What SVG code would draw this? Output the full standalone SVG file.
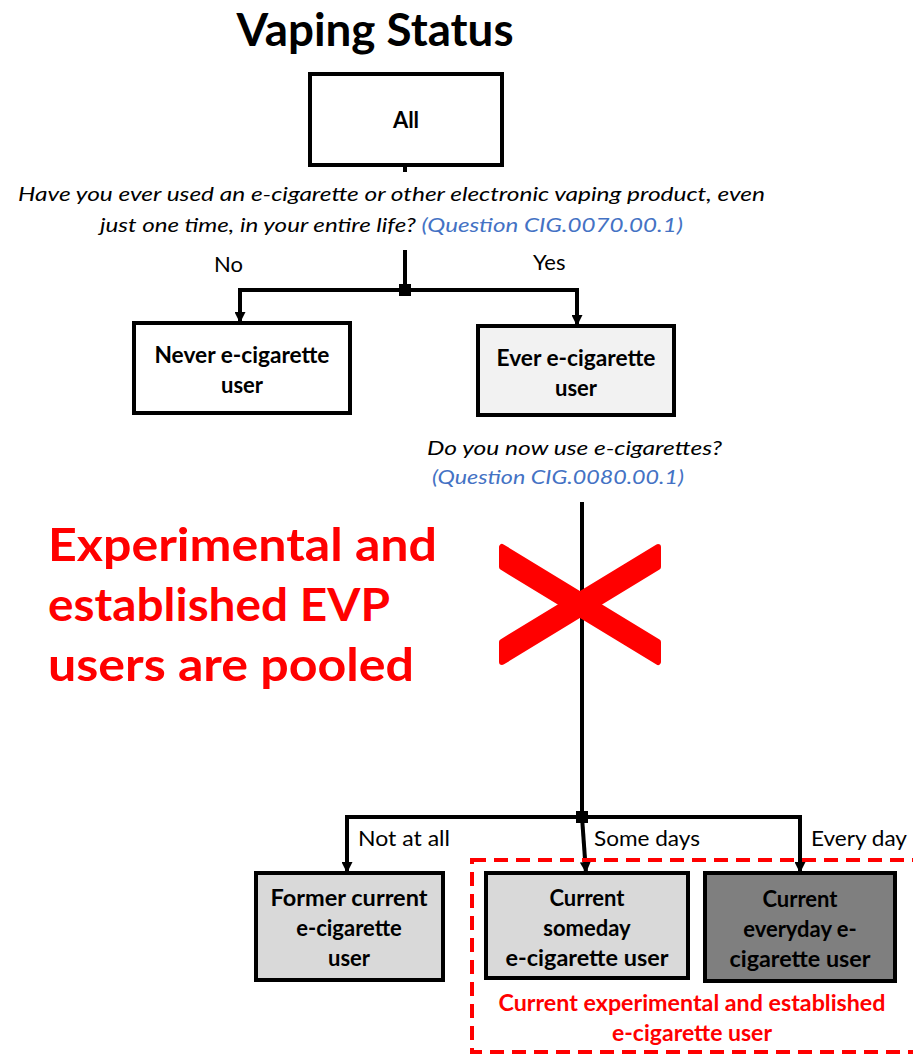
<svg xmlns="http://www.w3.org/2000/svg" width="913" height="1055" viewBox="0 0 913 1055">
  <defs>
    <marker id="arrow" viewBox="0 0 10 10" refX="10" refY="5" markerWidth="11" markerHeight="11" markerUnits="userSpaceOnUse" orient="auto">
      <path d="M0,0 L10,5 L0,10 z" fill="#000"/>
    </marker>
    <style>
      .box { stroke: #000; stroke-width: 4; }
      .node-text { font-family: Lato, "Liberation Sans", sans-serif; font-weight: bold; font-size: 22px; fill: #000; text-anchor: middle; }
      .edge { fill: none; stroke: #000; stroke-width: 4; }
      .edge-label { font-family: Lato, "Liberation Sans", sans-serif; font-size: 22px; fill: #000; }
      .question { font-family: Lato, "Liberation Sans", sans-serif; font-style: italic; font-size: 20px; fill: #000; }
      .qref { fill: #4472C4; }
      .red-note { font-family: Lato, "Liberation Sans", sans-serif; font-weight: bold; fill: #FF0000; }
    </style>
  </defs>

  <rect width="913" height="1055" fill="#fff"/>

  <!-- title -->
  <text x="375" y="46" font-family="Lato, 'Liberation Sans', sans-serif" font-weight="bold" font-size="46" text-anchor="middle" textLength="277" lengthAdjust="spacingAndGlyphs">Vaping Status</text>

  <!-- questions -->
  <text class="question" x="18" y="201" textLength="747" lengthAdjust="spacingAndGlyphs">Have you ever used an e-cigarette or other electronic vaping product, even</text>
  <text class="question" x="100" y="232" textLength="583" lengthAdjust="spacingAndGlyphs">just one time, in your entire life? <tspan class="qref">(Question CIG.0070.00.1)</tspan></text>
  <text class="question" x="427" y="455" textLength="295" lengthAdjust="spacingAndGlyphs">Do you now use e-cigarettes?</text>
  <text class="question qref" x="432" y="484" textLength="252" lengthAdjust="spacingAndGlyphs">(Question CIG.0080.00.1)</text>

  <!-- connectors -->
  <g id="connectors">
    <line class="edge" x1="405" y1="165" x2="405" y2="172"/>
    <line class="edge" x1="405" y1="250" x2="405" y2="290"/>
    <path class="edge" d="M240,290 H577"/>
    <line class="edge" x1="240" y1="288" x2="240" y2="323" marker-end="url(#arrow)"/>
    <line class="edge" x1="577" y1="288" x2="577" y2="326" marker-end="url(#arrow)"/>
    <rect x="399" y="284" width="12" height="12" fill="#000"/>

    <line class="edge" x1="582" y1="502" x2="582" y2="817"/>
    <path class="edge" d="M347,817 H800"/>
    <line class="edge" x1="347" y1="815" x2="347" y2="873" marker-end="url(#arrow)"/>
    <line class="edge" x1="582" y1="817" x2="586" y2="873" marker-end="url(#arrow)"/>
    <line class="edge" x1="800" y1="815" x2="800" y2="873" marker-end="url(#arrow)"/>
    <rect x="576" y="811" width="12" height="12" fill="#000"/>

    <text class="edge-label" x="214" y="272">No</text>
    <text class="edge-label" x="533" y="270">Yes</text>
    <text class="edge-label" x="358" y="846" textLength="92" lengthAdjust="spacingAndGlyphs">Not at all</text>
    <text class="edge-label" x="594" y="846" textLength="106" lengthAdjust="spacingAndGlyphs">Some days</text>
    <text class="edge-label" x="811" y="846" textLength="96" lengthAdjust="spacingAndGlyphs">Every day</text>
  </g>

  <!-- nodes -->
  <g id="node-all">
    <rect class="box" x="310" y="74" width="192" height="91" fill="#fff"/>
    <text class="node-text" x="406" y="128">All</text>
  </g>

  <g id="node-never">
    <rect class="box" x="134" y="323" width="216" height="90" fill="#fff"/>
    <text class="node-text" x="242" y="363" textLength="175" lengthAdjust="spacingAndGlyphs">Never e-cigarette</text>
    <text class="node-text" x="242" y="393">user</text>
  </g>

  <g id="node-ever">
    <rect class="box" x="478" y="326" width="196" height="89" fill="#F2F2F2"/>
    <text class="node-text" x="576" y="366" textLength="159" lengthAdjust="spacingAndGlyphs">Ever e-cigarette</text>
    <text class="node-text" x="576" y="396">user</text>
  </g>

  <g id="node-former">
    <rect class="box" x="256" y="873" width="187" height="107" fill="#D9D9D9"/>
    <text class="node-text" x="349" y="906" textLength="157" lengthAdjust="spacingAndGlyphs">Former current</text>
    <text class="node-text" x="349" y="936">e-cigarette</text>
    <text class="node-text" x="349" y="966">user</text>
  </g>

  <g id="node-someday">
    <rect class="box" x="486" y="873" width="202" height="105" fill="#D9D9D9"/>
    <text class="node-text" x="587" y="906">Current</text>
    <text class="node-text" x="587" y="936">someday</text>
    <text class="node-text" x="587" y="966" textLength="163" lengthAdjust="spacingAndGlyphs">e-cigarette user</text>
  </g>

  <g id="node-everyday">
    <rect class="box" x="705" y="873" width="190" height="108" fill="#7F7F7F"/>
    <text class="node-text" x="800" y="907">Current</text>
    <text class="node-text" x="800" y="937">everyday e-</text>
    <text class="node-text" x="800" y="967" textLength="141" lengthAdjust="spacingAndGlyphs">cigarette user</text>
  </g>

  <!-- current-user grouping -->
  <g id="group-current">
    <rect x="472" y="860" width="470" height="192" fill="none" stroke="#FF0000" stroke-width="4" stroke-dasharray="14 8"/>
    <text class="red-note" x="692" y="1011" font-size="22" text-anchor="middle" textLength="387" lengthAdjust="spacingAndGlyphs">Current experimental and established</text>
    <text class="red-note" x="692" y="1041" font-size="22" text-anchor="middle" textLength="160" lengthAdjust="spacingAndGlyphs">e-cigarette user</text>
  </g>

  <!-- pooled note with cross -->
  <g id="note-pooled">
    <text class="red-note" x="48" y="561" font-size="46" textLength="389" lengthAdjust="spacingAndGlyphs">Experimental and</text>
    <text class="red-note" x="48" y="621" font-size="46" textLength="342" lengthAdjust="spacingAndGlyphs">established EVP</text>
    <text class="red-note" x="48" y="681" font-size="46" textLength="366" lengthAdjust="spacingAndGlyphs">users are pooled</text>
    <g fill="#FF0000" stroke="#FF0000" stroke-width="6" stroke-linejoin="round">
      <polygon points="502,547 502,567 658,662 658,642"/>
      <polygon points="502,642 502,662 658,567 658,547"/>
    </g>
  </g>
</svg>
